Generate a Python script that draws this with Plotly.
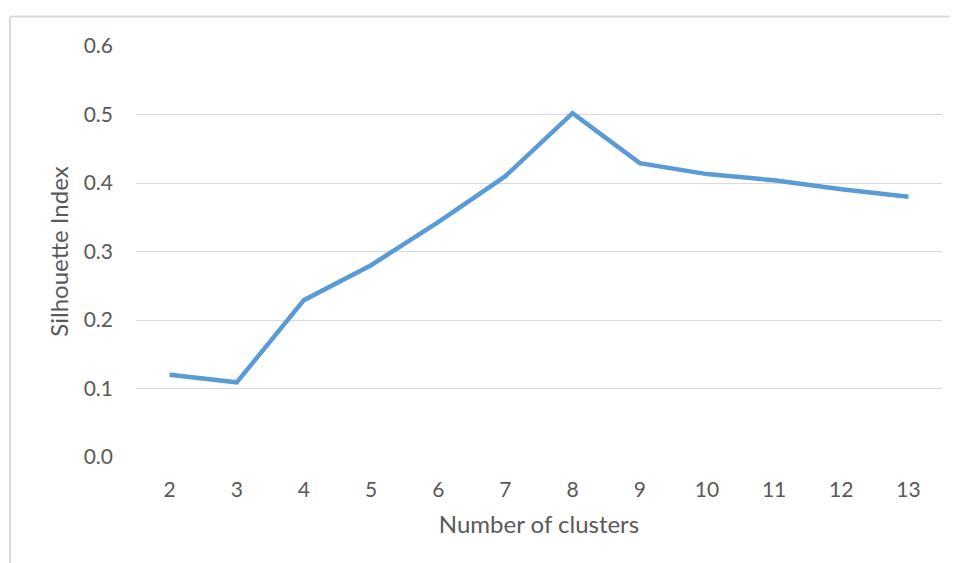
import plotly.graph_objects as go

clusters = [2, 3, 4, 5, 6, 7, 8, 9, 10, 11, 12, 13]
silhouette = [0.12, 0.109, 0.229, 0.28, 0.343, 0.41, 0.502, 0.429, 0.413, 0.404, 0.391, 0.38]
y_ticks = [0.0, 0.1, 0.2, 0.3, 0.4, 0.5, 0.6]

text_color = "#595959"
grid_color = "#D9D9D9"

fig = go.Figure()
fig.add_scatter(
    x=[str(c) for c in clusters],
    y=silhouette,
    mode="lines",
    line={"color": "#5B9BD5", "width": 4.5},
    showlegend=False,
)

# chart frame (only top and left edges are visible in the crop)
frame = {"type": "line", "xref": "paper", "yref": "paper", "line": {"color": grid_color, "width": 2}}
fig.add_shape(**frame, x0=-0.1563, x1=-0.1563, y0=1.0718, y1=-0.3)
fig.add_shape(**frame, x0=-0.1563, x1=1.05, y0=1.0718, y1=1.0718)

# page body adds an 8px margin, so the figure is 8px smaller than the window
fig.update_layout(
    width=950,
    height=555,
    margin={"l": 128, "r": 16, "t": 38, "b": 106},
    plot_bgcolor="white",
    paper_bgcolor="white",
    font={"family": "Lato", "size": 21, "color": text_color},
    xaxis={
        "type": "category",
        "range": [-0.5, len(clusters) - 0.5],
        "showgrid": False,
        "showline": False,
        "zeroline": False,
        "ticks": "",
        "ticklabelstandoff": 18,
        "title": {"text": "Number of clusters", "font": {"size": 24}, "standoff": 16},
    },
    yaxis={
        "range": [0, 0.6],
        "tickvals": y_ticks,
        "tickformat": ".1f",
        "showgrid": True,
        "gridcolor": grid_color,
        "gridwidth": 1,
        "zeroline": False,
        "showline": False,
        "ticks": "",
        "ticklabelstandoff": 22,
        "title": {"text": "Silhouette Index", "font": {"size": 24}, "standoff": 8},
    },
)

fig.write_html("out.html")
